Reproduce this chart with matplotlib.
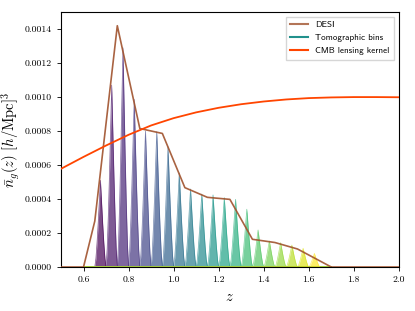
import numpy as np
import matplotlib
matplotlib.use('Agg')
import matplotlib.pyplot as plt
from matplotlib.lines import Line2D

plt.rcParams['font.family'] = 'serif'
plt.rcParams['font.serif'] = ['cmr10']
plt.rcParams['mathtext.fontset'] = 'cm'
plt.rcParams['axes.formatter.use_mathtext'] = True

# DESI n(z)
desi_z = [0.5, 0.6, 0.65, 0.75, 0.85, 0.95, 1.05, 1.15, 1.25, 1.35, 1.45, 1.55, 1.7, 2.0]
desi_n = [0.0, 0.0, 0.00027, 0.00142, 0.000815, 0.000786, 0.000467, 0.00041,
          0.000398, 0.000163, 0.000144, 0.000106, 0.0, 0.0]

# tomographic bins: centres and peak heights
bin_centres = [0.675, 0.725, 0.775, 0.825, 0.875, 0.925, 0.975, 1.025, 1.075, 1.125,
               1.175, 1.225, 1.275, 1.325, 1.375, 1.425, 1.475, 1.525, 1.575, 1.625]
bin_peaks = [0.00051, 0.00107, 0.00129, 0.000986, 0.0008, 0.000796, 0.000708, 0.000553,
             0.000459, 0.000429, 0.000424, 0.000408, 0.000398, 0.00034, 0.000218,
             0.000153, 0.000143, 0.000129, 0.00011, 0.00008]
# bin shape (offset from centre, fraction of peak)
shape_dz = [-0.025, -0.02, -0.015, -0.01, -0.005, 0.0, 0.005, 0.01, 0.015, 0.02, 0.025]
shape_f = [0.0, 0.1, 0.28, 0.5, 0.75, 1.0, 0.75, 0.5, 0.28, 0.1, 0.0]
bin_zmin, bin_zmax = 0.6, 1.7

# CMB lensing kernel (scaled)
kern_z = [0.5, 0.6, 0.7, 0.8, 0.9, 1.0, 1.1, 1.2, 1.3, 1.4, 1.5, 1.6, 1.7, 1.8, 1.9, 2.0]
kern_w = [0.000578, 0.000648, 0.000715, 0.000778, 0.000833, 0.000876, 0.00091, 0.000937,
          0.000958, 0.000974, 0.000986, 0.000994, 0.000998, 0.001, 0.001, 0.000999]

fig = plt.figure(figsize=(4.15, 3.11), dpi=100)
ax = fig.add_axes([0.147, 0.1415, 0.814, 0.8195])

ax.plot(desi_z, desi_n, color='sienna', lw=1.2, alpha=0.9, zorder=3)

cmap = plt.get_cmap('viridis')
nb = len(bin_centres)
for i in range(nb):
    zz = [bin_zmin] + [bin_centres[i] + d for d in shape_dz] + [bin_zmax]
    nn = [0.0] + [bin_peaks[i] * f for f in shape_f] + [0.0]
    col = cmap(i / (nb - 1))
    ax.fill_between(zz, nn, color=col, alpha=0.7, lw=0, zorder=2)
    ax.plot(zz, nn, color=col, lw=0.5, alpha=0.7, zorder=2)

ax.plot(kern_z, kern_w, color='orangered', lw=1.3, zorder=4)

ax.set_xlim(0.5, 2.0)
ax.set_ylim(0, 0.0015)
ax.set_yticks([0, 0.0002, 0.0004, 0.0006, 0.0008, 0.001, 0.0012, 0.0014])
ax.set_yticklabels(['0.0000', '0.0002', '0.0004', '0.0006', '0.0008', '0.0010', '0.0012', '0.0014'])
ax.set_xticks([0.6, 0.8, 1.0, 1.2, 1.4, 1.6, 1.8, 2.0])
ax.set_xticklabels(['0.6', '0.8', '1.0', '1.2', '1.4', '1.6', '1.8', '2.0'])
ax.tick_params(direction='out', length=3, width=0.6, labelsize=7)
for s in ax.spines.values():
    s.set_linewidth(0.8)

ax.set_xlabel(r'$z$', fontsize=10.5)
ax.set_ylabel(r'$\bar{n}_g(z)\ [h/\mathrm{Mpc}]^3$', fontsize=10.5, labelpad=2)

handles = [Line2D([], [], color='sienna', lw=1.5, alpha=0.8),
           Line2D([], [], color=cmap(0.5), lw=1.5),
           Line2D([], [], color='orangered', lw=1.5)]
ax.legend(handles, ['DESI', 'Tomographic bins', 'CMB lensing kernel'], loc='upper right',
          prop={'family': 'cmss10', 'size': 6.5}, fancybox=False, framealpha=0.8,
          handlelength=2.0, borderpad=0.5)

fig.savefig('out.png', dpi=100)
